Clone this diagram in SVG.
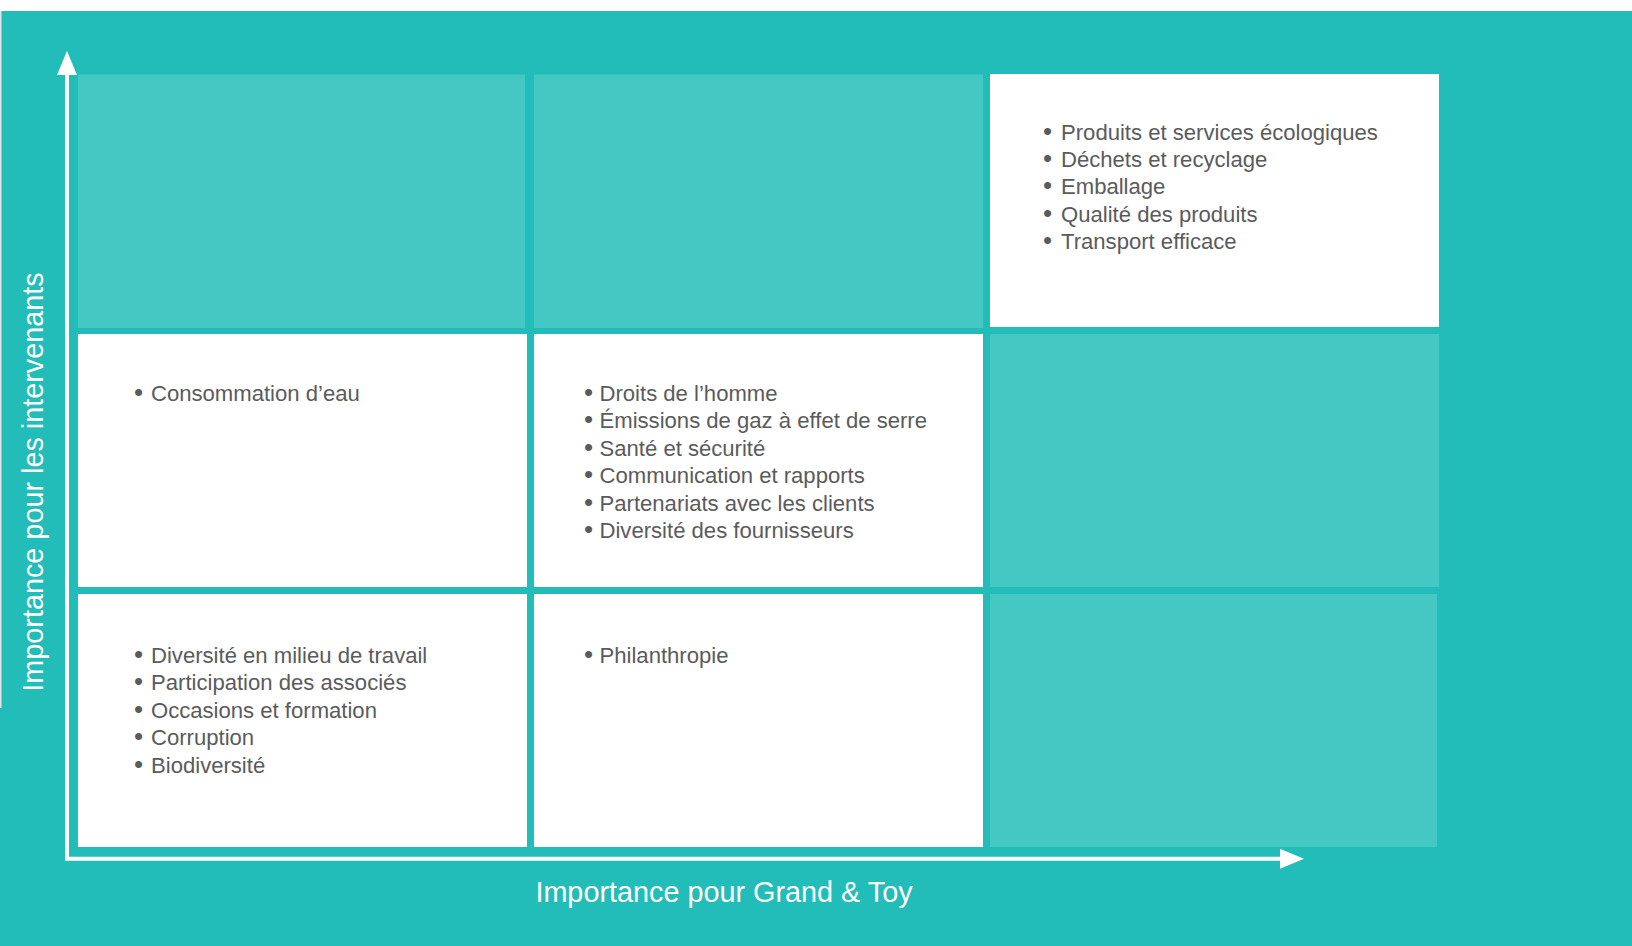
<svg xmlns="http://www.w3.org/2000/svg" width="1632" height="946" viewBox="0 0 1632 946">
  <defs>
    <style>
      .bg { fill: #22BCB9; }
      .teal { fill: #45C8C3; }
      .white { fill: #FFFFFF; }
      .item { font-family: "Liberation Sans", Arial, sans-serif; font-size: 22.1px; fill: #5A5B5D; }
      .bul { font-family: "Liberation Sans", Arial, sans-serif; font-size: 26px; fill: #5A5B5D; text-anchor: middle; }
      .axis-label { font-family: "Liberation Sans", Arial, sans-serif; font-size: 28.8px; fill: #FFFFFF; text-anchor: middle; }
      .axis { fill: none; stroke: #FFFFFF; stroke-width: 4; stroke-linejoin: miter; }
    </style>
    <marker id="arrow" viewBox="0 0 24 20" refX="0" refY="10" markerWidth="24" markerHeight="20" markerUnits="userSpaceOnUse" orient="auto-start-reverse">
      <path d="M0,0 L24,10 L0,20 Z" fill="#FFFFFF"/>
    </marker>
  </defs>

  <rect x="0" y="0" width="1632" height="946" fill="#FFFFFF"/>
  <rect class="bg" x="0" y="11" width="1632" height="935"/>
  <rect x="0" y="11" width="1.5" height="697" fill="#E4E4E4"/>

  <g id="cell-r1c1"><rect class="teal" x="78" y="74.5" width="447" height="253.5"/></g>
  <g id="cell-r1c2"><rect class="teal" x="534" y="74.5" width="449" height="253.5"/></g>
  <g id="cell-r1c3">
    <rect class="white" x="990" y="74" width="449" height="253"/>
    <text class="bul" x="1047.5" y="139.5">•</text><text class="item" x="1061" y="139.5">Produits et services écologiques</text>
    <text class="bul" x="1047.5" y="166.9">•</text><text class="item" x="1061" y="166.9">Déchets et recyclage</text>
    <text class="bul" x="1047.5" y="194.3">•</text><text class="item" x="1061" y="194.3">Emballage</text>
    <text class="bul" x="1047.5" y="221.7">•</text><text class="item" x="1061" y="221.7">Qualité des produits</text>
    <text class="bul" x="1047.5" y="249.1">•</text><text class="item" x="1061" y="249.1">Transport efficace</text>
  </g>

  <g id="cell-r2c1">
    <rect class="white" x="78" y="334" width="449" height="253"/>
    <text class="bul" x="138.5" y="401">•</text><text class="item" x="151" y="401">Consommation d’eau</text>
  </g>
  <g id="cell-r2c2">
    <rect class="white" x="534" y="334" width="449" height="253"/>
    <text class="bul" x="588.5" y="401">•</text><text class="item" x="599.5" y="401">Droits de l’homme</text>
    <text class="bul" x="588.5" y="428.4">•</text><text class="item" x="599.5" y="428.4">Émissions de gaz à effet de serre</text>
    <text class="bul" x="588.5" y="455.8">•</text><text class="item" x="599.5" y="455.8">Santé et sécurité</text>
    <text class="bul" x="588.5" y="483.2">•</text><text class="item" x="599.5" y="483.2">Communication et rapports</text>
    <text class="bul" x="588.5" y="510.6">•</text><text class="item" x="599.5" y="510.6">Partenariats avec les clients</text>
    <text class="bul" x="588.5" y="538">•</text><text class="item" x="599.5" y="538">Diversité des fournisseurs</text>
  </g>
  <g id="cell-r2c3"><rect class="teal" x="990" y="334" width="449" height="253"/></g>

  <g id="cell-r3c1">
    <rect class="white" x="78" y="594" width="449" height="253"/>
    <text class="bul" x="138.5" y="663">•</text><text class="item" x="151" y="663">Diversité en milieu de travail</text>
    <text class="bul" x="138.5" y="690.4">•</text><text class="item" x="151" y="690.4">Participation des associés</text>
    <text class="bul" x="138.5" y="717.8">•</text><text class="item" x="151" y="717.8">Occasions et formation</text>
    <text class="bul" x="138.5" y="745.2">•</text><text class="item" x="151" y="745.2">Corruption</text>
    <text class="bul" x="138.5" y="772.6">•</text><text class="item" x="151" y="772.6">Biodiversité</text>
  </g>
  <g id="cell-r3c2">
    <rect class="white" x="534" y="594" width="449" height="253"/>
    <text class="bul" x="588.5" y="663">•</text><text class="item" x="599.5" y="663">Philanthropie</text>
  </g>
  <g id="cell-r3c3"><rect class="teal" x="990" y="594" width="447" height="253"/></g>

  <g id="connectors">
    <path class="axis" d="M67,75 L67,858.8 L1280,858.8" marker-start="url(#arrow)" marker-end="url(#arrow)"/>
  </g>

  <g id="label-x"><text class="axis-label" x="724" y="902">Importance pour Grand &amp; Toy</text></g>
  <g id="label-y"><text class="axis-label" transform="translate(43,482) rotate(-90)">Importance pour les intervenants</text></g>
</svg>
